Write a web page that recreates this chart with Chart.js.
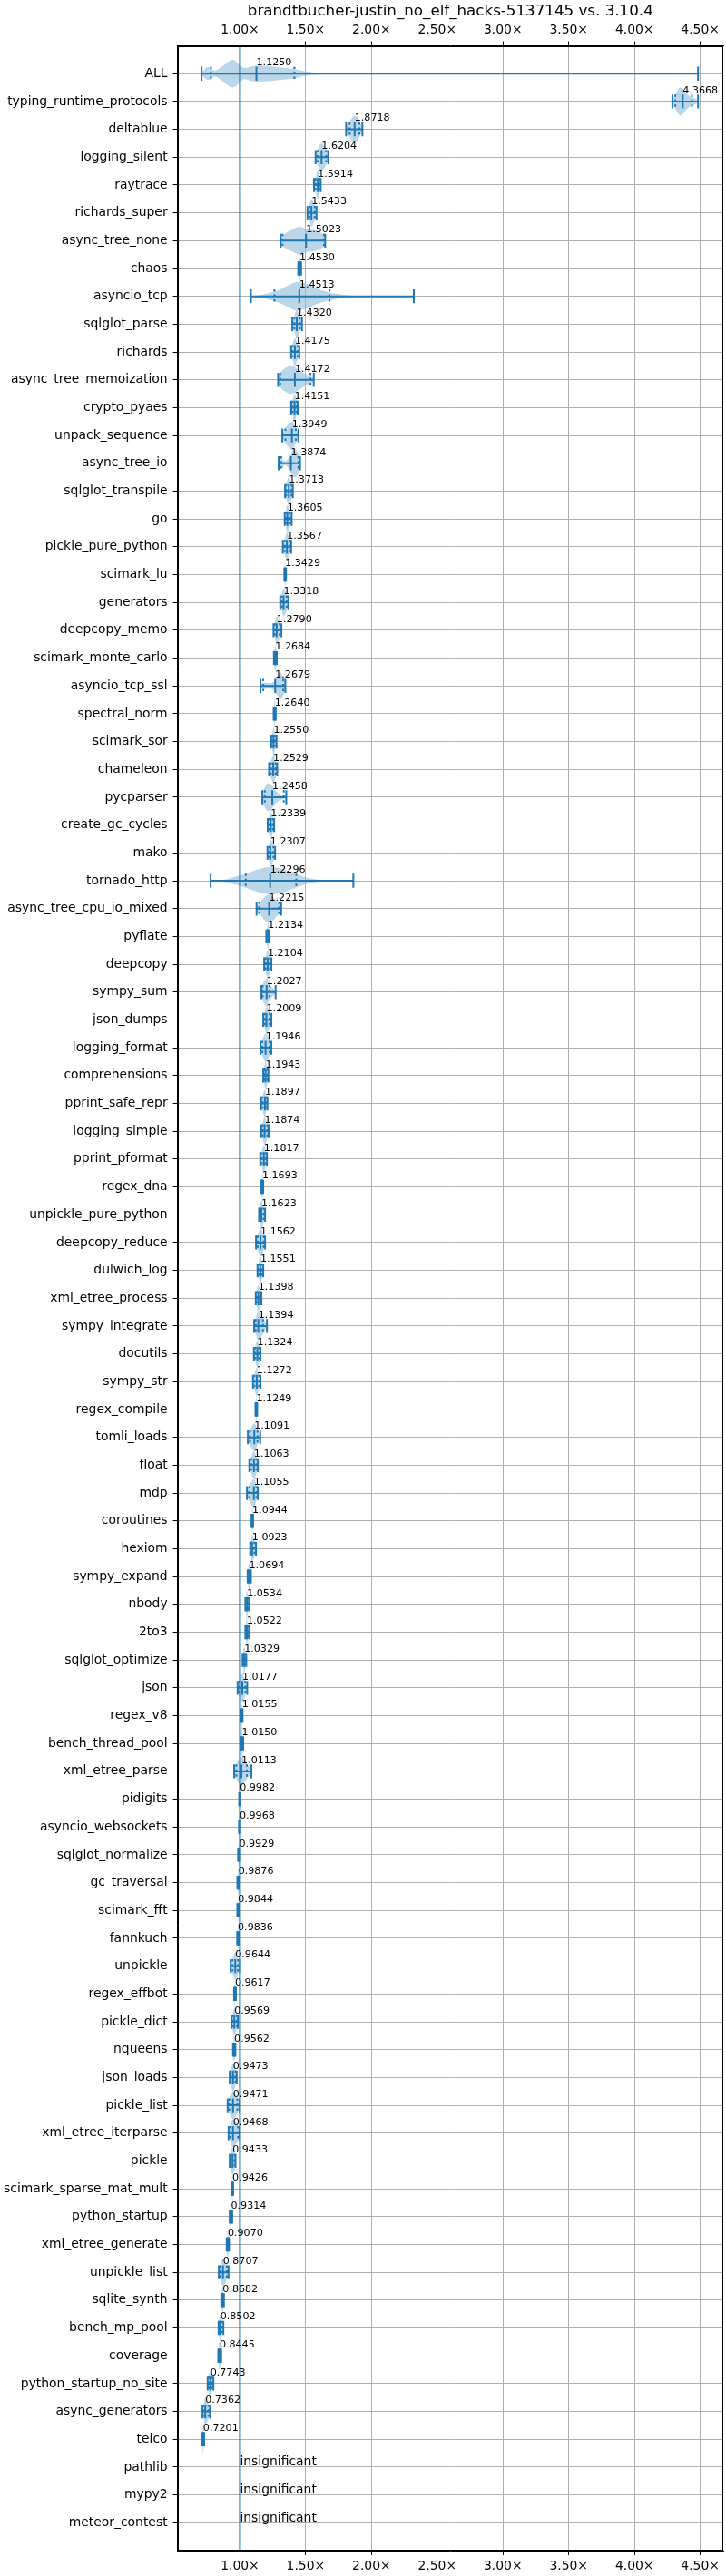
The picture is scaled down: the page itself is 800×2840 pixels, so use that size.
<!DOCTYPE html>
<html>
<head>
<meta charset="utf-8">
<script src="https://cdn.jsdelivr.net/npm/chart.js@4.4.1/dist/chart.umd.min.js"></script>
<style>
  html, body { margin: 0; padding: 0; background: #fff; }
  canvas { display: block; }
</style>
</head>
<body>
<canvas id="chart" width="800" height="2840"></canvas>
<script>
const chartTitle = 'brandtbucher-justin_no_elf_hacks-5137145 vs. 3.10.4';

// benchmarks, top to bottom
const benchmarks = [
  'ALL', 'typing_runtime_protocols', 'deltablue', 'logging_silent', 'raytrace',
  'richards_super', 'async_tree_none', 'chaos', 'asyncio_tcp', 'sqlglot_parse',
  'richards', 'async_tree_memoization', 'crypto_pyaes', 'unpack_sequence', 'async_tree_io',
  'sqlglot_transpile', 'go', 'pickle_pure_python', 'scimark_lu', 'generators',
  'deepcopy_memo', 'scimark_monte_carlo', 'asyncio_tcp_ssl', 'spectral_norm', 'scimark_sor',
  'chameleon', 'pycparser', 'create_gc_cycles', 'mako', 'tornado_http',
  'async_tree_cpu_io_mixed', 'pyflate', 'deepcopy', 'sympy_sum', 'json_dumps',
  'logging_format', 'comprehensions', 'pprint_safe_repr', 'logging_simple', 'pprint_pformat',
  'regex_dna', 'unpickle_pure_python', 'deepcopy_reduce', 'dulwich_log', 'xml_etree_process',
  'sympy_integrate', 'docutils', 'sympy_str', 'regex_compile', 'tomli_loads',
  'float', 'mdp', 'coroutines', 'hexiom', 'sympy_expand',
  'nbody', '2to3', 'sqlglot_optimize', 'json', 'regex_v8',
  'bench_thread_pool', 'xml_etree_parse', 'pidigits', 'asyncio_websockets', 'sqlglot_normalize',
  'gc_traversal', 'scimark_fft', 'fannkuch', 'unpickle', 'regex_effbot',
  'pickle_dict', 'nqueens', 'json_loads', 'pickle_list', 'xml_etree_iterparse',
  'pickle', 'scimark_sparse_mat_mult', 'python_startup', 'xml_etree_generate', 'unpickle_list',
  'sqlite_synth', 'bench_mp_pool', 'coverage', 'python_startup_no_site', 'async_generators',
  'telco', 'pathlib', 'mypy2', 'meteor_contest'
];

// median speedup (null = insignificant)
const medians = [
  1.1250, 4.3668, 1.8718, 1.6204, 1.5914, 1.5433, 1.5023, 1.4530, 1.4513, 1.4320,
  1.4175, 1.4172, 1.4151, 1.3949, 1.3874, 1.3713, 1.3605, 1.3567, 1.3429, 1.3318,
  1.2790, 1.2684, 1.2679, 1.2640, 1.2550, 1.2529, 1.2458, 1.2339, 1.2307, 1.2296,
  1.2215, 1.2134, 1.2104, 1.2027, 1.2009, 1.1946, 1.1943, 1.1897, 1.1874, 1.1817,
  1.1693, 1.1623, 1.1562, 1.1551, 1.1398, 1.1394, 1.1324, 1.1272, 1.1249, 1.1091,
  1.1063, 1.1055, 1.0944, 1.0923, 1.0694, 1.0534, 1.0522, 1.0329, 1.0177, 1.0155,
  1.0150, 1.0113, 0.9982, 0.9968, 0.9929, 0.9876, 0.9844, 0.9836, 0.9644, 0.9617,
  0.9569, 0.9562, 0.9473, 0.9471, 0.9468, 0.9433, 0.9426, 0.9314, 0.9070, 0.8707,
  0.8682, 0.8502, 0.8445, 0.7743, 0.7362, 0.7201, null, null, null
];

// extrema (min / max)
const lows = [
  0.708, 4.288, 1.807, 1.575, 1.563, 1.513, 1.310, 1.443, 1.083, 1.398,
  1.389, 1.290, 1.389, 1.322, 1.294, 1.343, 1.340, 1.326, 1.338, 1.306,
  1.255, 1.258, 1.156, 1.256, 1.237, 1.221, 1.170, 1.211, 1.209, 0.777,
  1.126, 1.200, 1.184, 1.163, 1.177, 1.156, 1.177, 1.161, 1.161, 1.154,
  1.163, 1.145, 1.122, 1.133, 1.120, 1.108, 1.106, 1.099, 1.118, 1.060,
  1.071, 1.053, 1.088, 1.078, 1.058, 1.041, 1.041, 1.020, 0.982, 1.009,
  1.004, 0.956, 0.994, 0.993, 0.986, 0.980, 0.980, 0.979, 0.929, 0.955,
  0.936, 0.947, 0.922, 0.906, 0.913, 0.922, 0.936, 0.922, 0.899, 0.839,
  0.858, 0.837, 0.835, 0.754, 0.715, 0.712, null, null, null
];
const highs = [
  4.483, 4.483, 1.931, 1.671, 1.614, 1.582, 1.648, 1.465, 2.322, 1.471,
  1.451, 1.561, 1.439, 1.444, 1.457, 1.402, 1.393, 1.389, 1.350, 1.368,
  1.315, 1.280, 1.345, 1.272, 1.278, 1.283, 1.352, 1.260, 1.267, 1.862,
  1.313, 1.225, 1.239, 1.271, 1.239, 1.239, 1.216, 1.209, 1.218, 1.205,
  1.177, 1.191, 1.191, 1.177, 1.163, 1.205, 1.156, 1.156, 1.131, 1.154,
  1.136, 1.136, 1.100, 1.122, 1.083, 1.069, 1.069, 1.048, 1.055, 1.020,
  1.025, 1.087, 1.003, 1.001, 1.000, 0.994, 0.991, 0.990, 1.000, 0.969,
  0.984, 0.965, 0.975, 0.998, 0.998, 0.966, 0.948, 0.941, 0.917, 0.913,
  0.878, 0.874, 0.857, 0.798, 0.772, 0.728, null, null, null
];

// 10% / 90% quantiles
const q10s = [
  0.779, 4.310, 1.834, 1.590, 1.575, 1.528, 1.324, 1.447, 1.262, 1.414,
  1.400, 1.306, 1.400, 1.345, 1.313, 1.352, 1.348, 1.340, 1.340, 1.318,
  1.265, 1.262, 1.177, 1.259, 1.245, 1.235, 1.189, 1.220, 1.220, 1.044,
  1.145, 1.205, 1.195, 1.172, 1.188, 1.170, 1.184, 1.172, 1.172, 1.165,
  1.165, 1.152, 1.135, 1.142, 1.128, 1.120, 1.117, 1.110, 1.120, 1.076,
  1.085, 1.070, 1.090, 1.085, 1.062, 1.046, 1.045, 1.025, 0.992, 1.011,
  1.008, 0.972, 0.996, 0.995, 0.988, 0.983, 0.982, 0.981, 0.943, 0.958,
  0.943, 0.950, 0.930, 0.918, 0.925, 0.930, 0.938, 0.925, 0.902, 0.852,
  0.861, 0.842, 0.838, 0.762, 0.725, 0.715, null, null, null
];
const q90s = [
  1.414, 4.437, 1.908, 1.655, 1.605, 1.568, 1.639, 1.460, 1.681, 1.455,
  1.438, 1.536, 1.430, 1.425, 1.444, 1.392, 1.380, 1.378, 1.347, 1.355,
  1.302, 1.276, 1.329, 1.269, 1.268, 1.272, 1.333, 1.250, 1.255, 1.428,
  1.297, 1.220, 1.228, 1.225, 1.225, 1.225, 1.208, 1.200, 1.208, 1.196,
  1.174, 1.180, 1.180, 1.168, 1.153, 1.175, 1.148, 1.145, 1.128, 1.133,
  1.125, 1.125, 1.098, 1.110, 1.078, 1.062, 1.060, 1.042, 1.040, 1.018,
  1.020, 1.052, 1.001, 0.999, 0.997, 0.991, 0.988, 0.987, 0.985, 0.966,
  0.975, 0.962, 0.966, 0.980, 0.985, 0.960, 0.946, 0.937, 0.913, 0.900,
  0.874, 0.862, 0.852, 0.788, 0.760, 0.725, null, null, null
];

// violin outlines for the wide ones: [speedup, relative width]
const violinShapes = {
  'ALL': [[0.708, 0.05], [0.74, 0.4], [0.765, 0.45], [0.81, 0.22], [0.87, 0.55], [0.94, 1.0],
          [0.99, 0.72], [1.03, 0.4], [1.08, 0.5], [1.14, 0.58], [1.23, 0.52], [1.33, 0.42],
          [1.42, 0.32], [1.49, 0.17], [1.58, 0.07], [1.7, 0.02], [1.8, 0]],
  'typing_runtime_protocols': [[4.288, 0.2], [4.31, 0.5], [4.335, 0.9], [4.355, 1.0], [4.38, 0.75],
          [4.41, 0.45], [4.44, 0.3], [4.483, 0.1]],
  'async_tree_none': [[1.31, 0.2], [1.34, 0.5], [1.39, 0.75], [1.45, 1.0], [1.52, 0.8], [1.59, 0.7], [1.648, 0.35]],
  'asyncio_tcp': [[1.083, 0], [1.17, 0.13], [1.26, 0.33], [1.33, 0.6], [1.42, 1.0], [1.47, 0.97],
          [1.52, 0.83], [1.6, 0.5], [1.68, 0.28], [1.77, 0.14], [1.86, 0.03], [1.95, 0]],
  'async_tree_memoization': [[1.29, 0.3], [1.306, 0.5], [1.33, 0.75], [1.37, 0.97], [1.40, 1.0],
          [1.44, 0.78], [1.49, 0.45], [1.536, 0.25], [1.561, 0.15]],
  'async_tree_io': [[1.294, 0.2], [1.31, 0.38], [1.325, 0.3], [1.345, 0.12], [1.37, 0.4], [1.40, 0.9],
          [1.425, 1.0], [1.457, 0.5]],
  'asyncio_tcp_ssl': [[1.156, 0.15], [1.19, 0.22], [1.24, 0.2], [1.28, 0.6], [1.305, 1.0], [1.33, 0.65], [1.345, 0.3]],
  'pycparser': [[1.17, 0.3], [1.19, 0.75], [1.21, 1.0], [1.235, 0.9], [1.27, 0.48], [1.305, 0.22], [1.352, 0.05]],
  'tornado_http': [[0.777, 0], [0.89, 0.1], [0.98, 0.33], [1.044, 0.5], [1.12, 0.76], [1.19, 0.95],
          [1.24, 1.0], [1.31, 0.87], [1.43, 0.48], [1.51, 0.22], [1.6, 0.07], [1.68, 0.02], [1.75, 0]],
  'async_tree_cpu_io_mixed': [[1.126, 0.2], [1.145, 0.3], [1.18, 0.75], [1.215, 1.0], [1.25, 0.85],
          [1.285, 0.5], [1.313, 0.3]]
};

const xTicks = [1.0, 1.5, 2.0, 2.5, 3.0, 3.5, 4.0, 4.5];
const xMin = 0.525;
const xMax = 4.675;

const BLUE = '#1f77b4';
const GRID = '#b0b0b0';
const FONT = "'DejaVu Sans', sans-serif";

Chart.defaults.font.family = FONT;
Chart.defaults.color = '#000';

const rows = benchmarks.map((_, i) => i).filter(i => medians[i] !== null);
const gap = { x: null, y: null };

// horizontal bar from min to max on each row
const barPoints = rows.flatMap(i => [{ x: lows[i], y: i }, { x: highs[i], y: i }, gap]);

// short vertical marks (caps, medians, quantiles)
const marks = (vals) => rows.flatMap(i => [{ x: vals[i], y: i - 0.25 }, { x: vals[i], y: i + 0.25 }, gap]);

const lineSet = (data, extra) => Object.assign({
  data, showLine: true, spanGaps: false, borderColor: BLUE, borderWidth: 2,
  pointRadius: 0, pointHoverRadius: 0, fill: false
}, extra || {});

// smooth curve through pixel points, continuing the current path
function curveThrough(ctx, pts) {
  for (let k = 0; k < pts.length - 1; k++) {
    const p0 = pts[k - 1] || pts[k], p1 = pts[k], p2 = pts[k + 1], p3 = pts[k + 2] || p2;
    ctx.bezierCurveTo(
      p1[0] + (p2[0] - p0[0]) / 6, p1[1] + (p2[1] - p0[1]) / 6,
      p2[0] - (p3[0] - p1[0]) / 6, p2[1] - (p3[1] - p1[1]) / 6,
      p2[0], p2[1]);
  }
}

const violinPlugin = {
  id: 'violins',
  // violin bodies go under the grid like matplotlib does
  beforeDraw(chart) {
    const { ctx, chartArea, scales: { x, y } } = chart;
    ctx.save();
    ctx.beginPath();
    ctx.rect(chartArea.left, chartArea.top, chartArea.right - chartArea.left, chartArea.bottom - chartArea.top);
    ctx.clip();
    ctx.fillStyle = 'rgba(31, 119, 180, 0.3)';
    rows.forEach(i => {
      const shape = violinShapes[benchmarks[i]] ||
        [[lows[i], 0.12], [q10s[i], 0.55], [medians[i], 1], [q90s[i], 0.55], [highs[i], 0.12]];
      const top = shape.map(([v, w]) => [x.getPixelForValue(v), y.getPixelForValue(i - w * 0.5)]);
      const bot = shape.map(([v, w]) => [x.getPixelForValue(v), y.getPixelForValue(i + w * 0.5)]).reverse();
      ctx.beginPath();
      ctx.moveTo(top[0][0], top[0][1]);
      curveThrough(ctx, top);
      ctx.lineTo(bot[0][0], bot[0][1]);
      curveThrough(ctx, bot);
      ctx.closePath();
      ctx.fill();
    });
    ctx.restore();
  },
  afterDatasetsDraw(chart) {
    const { ctx, scales: { x, y } } = chart;
    ctx.save();
    ctx.fillStyle = '#000';
    ctx.textAlign = 'left';
    ctx.textBaseline = 'alphabetic';
    benchmarks.forEach((name, i) => {
      if (medians[i] === null) {
        ctx.font = '13.9px ' + FONT;
        ctx.fillText('insignificant', x.getPixelForValue(1.0), y.getPixelForValue(i - 0.05));
      } else {
        ctx.font = '11.1px ' + FONT;
        ctx.fillText(medians[i].toFixed(4), x.getPixelForValue(medians[i]), y.getPixelForValue(i - 0.3));
      }
    });
    ctx.restore();
  },
  afterDraw(chart) {
    const { ctx, chartArea: a } = chart;
    ctx.save();
    ctx.strokeStyle = '#000';
    ctx.lineWidth = 1;
    ctx.strokeRect(Math.round(a.left) + 0.5, Math.round(a.top) + 0.5,
      Math.round(a.right - a.left) - 1, Math.round(a.bottom - a.top) - 1);
    ctx.restore();
  }
};

const xAxis = (position, extra) => Object.assign({
  type: 'linear', position, min: xMin, max: xMax,
  afterBuildTicks: s => { s.ticks = xTicks.map(v => ({ value: v })); },
  ticks: { autoSkip: false, maxRotation: 0, padding: 4, font: { size: 13.9 }, callback: v => v.toFixed(2) + '×' },
  border: { display: true, color: '#000', width: 1 }
}, extra);

new Chart(document.getElementById('chart'), {
  type: 'scatter',
  data: {
    datasets: [
      lineSet(barPoints),
      lineSet(marks(lows)),
      lineSet(marks(highs)),
      lineSet(marks(medians)),
      lineSet(marks(q10s), { borderDash: [2.5, 3] }),
      lineSet(marks(q90s), { borderDash: [2.5, 3] }),
      // reference line at 1.00x
      lineSet([{ x: 1.0, y: -1 }, { x: 1.0, y: benchmarks.length }])
    ]
  },
  options: {
    responsive: false,
    animation: false,
    events: [],
    layout: { padding: { left: 0, right: 3, top: 0, bottom: 0 } },
    plugins: {
      legend: { display: false },
      tooltip: { enabled: false },
      title: {
        display: true, text: chartTitle, fullSize: false, color: '#000',
        font: { size: 16.7, weight: 'normal' }, padding: { top: 3, bottom: 0 }
      }
    },
    scales: {
      x: xAxis('bottom', {
        afterFit: s => { s.height = 28; },
        grid: { color: GRID, lineWidth: 1, tickColor: '#000', tickLength: 5 }
      }),
      x2: xAxis('top', {
        afterFit: s => { s.height = 27.5; },
        grid: { drawOnChartArea: false, tickColor: '#000', tickLength: 5 }
      }),
      y: {
        type: 'linear', reverse: true, min: -1, max: benchmarks.length,
        afterBuildTicks: s => { s.ticks = benchmarks.map((_, i) => ({ value: i })); },
        afterFit: s => { s.width = 195.6; },
        ticks: { autoSkip: false, padding: 6, font: { size: 13.9 }, callback: v => benchmarks[v] },
        grid: { color: GRID, lineWidth: 1, tickColor: '#000', tickLength: 5 },
        border: { display: true, color: '#000', width: 1 }
      }
    }
  },
  plugins: [violinPlugin]
});
</script>
</body>
</html>
